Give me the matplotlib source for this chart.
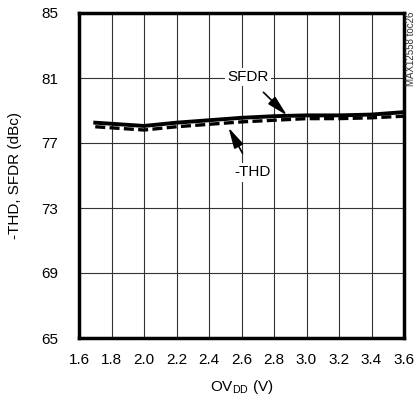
import matplotlib
matplotlib.use("Agg")
import matplotlib.pyplot as plt
from matplotlib import font_manager

names = {f.name for f in font_manager.fontManager.ttflist}
fam = "Liberation Sans Narrow" if "Liberation Sans Narrow" in names else "Liberation Sans"
plt.rcParams['font.family'] = [fam, 'DejaVu Sans']

ovdd = [1.7, 2.0, 2.2, 2.4, 2.6, 2.8, 3.0, 3.2, 3.4, 3.6]
sfdr = [78.25, 78.05, 78.25, 78.4, 78.55, 78.65, 78.7, 78.7, 78.75, 78.9]
thd = [78.0, 77.8, 78.0, 78.15, 78.3, 78.4, 78.5, 78.5, 78.55, 78.65]
xticks = [1.6, 1.8, 2.0, 2.2, 2.4, 2.6, 2.8, 3.0, 3.2, 3.4, 3.6]
yticks = [65, 69, 73, 77, 81, 85]

fig = plt.figure(figsize=(4.17, 3.98), dpi=100)
ax = fig.add_axes([79/417, 1-338/398, (404-79)/417, (338-13)/398])
ax.plot(ovdd, sfdr, color='black', lw=2.8, zorder=3)
ax.plot(ovdd, thd, color='black', lw=2.4, ls=(0, (3, 1.3)), zorder=3)
ax.set_xlim(1.6, 3.6)
ax.set_ylim(65, 85)
ax.set_xticks(xticks)
ax.set_xticklabels([f"{v:.1f}" for v in xticks])
ax.set_yticks(yticks)
ax.grid(True, color='#333333', lw=0.8)
ax.tick_params(length=0, labelsize=11)
ax.tick_params(axis='x', pad=11)
ax.tick_params(axis='y', pad=15)
for s in ax.spines.values():
    s.set_linewidth(2.5)
ax.set_xlabel("OV$_{\\mathregular{DD}}$ (V)", fontsize=11, labelpad=8)
ax.set_ylabel("-THD, SFDR (dBc)", fontsize=11, labelpad=14)

bb = dict(boxstyle='square,pad=0.15', fc='white', ec='none')
arr = dict(arrowstyle='-|>,head_length=0.9,head_width=0.22', color='black', lw=1.2,
           mutation_scale=14)
ax.annotate("SFDR", xy=(2.88, 78.7), xytext=(2.64, 81.05), fontsize=11,
            ha='center', va='center', bbox=bb,
            arrowprops=dict(arr, shrinkA=6, shrinkB=0))
ax.annotate("-THD", xy=(2.52, 77.95), xytext=(2.67, 75.2), fontsize=11,
            ha='center', va='center', bbox=bb,
            arrowprops=dict(arr, shrinkA=8, shrinkB=0))
fig.text(411/417, 1-12/398, "MAX12558 toc26", rotation=90, fontsize=7,
         ha='center', va='top', color='#333333')
fig.savefig("out.png", dpi=100)
